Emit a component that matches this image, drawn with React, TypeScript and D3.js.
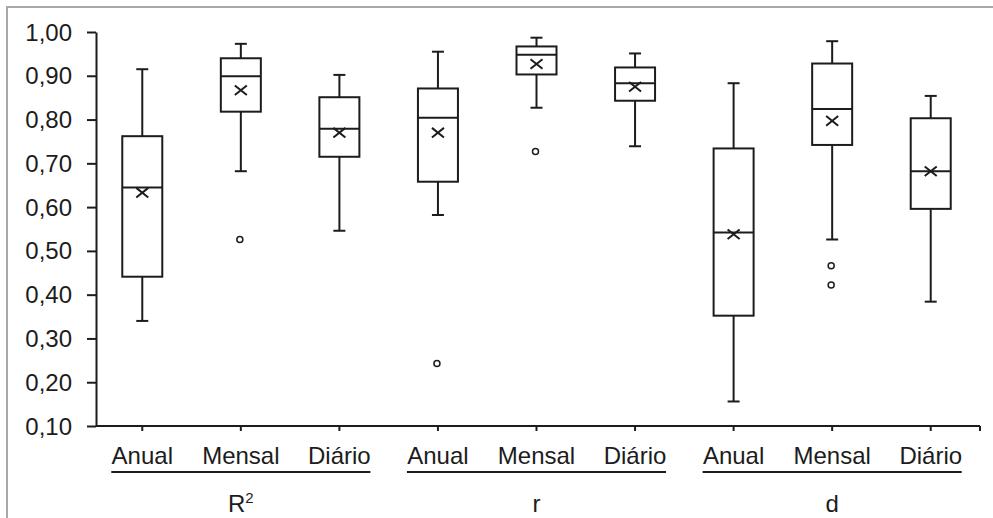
import { useRef, useEffect } from "react";
import * as d3 from "d3";

// three indices, three time scales each
const groups = ["R²", "r", "d"];
const periods = ["Anual", "Mensal", "Diário"];

// one value per box, in order R² (Anual, Mensal, Diário), r (...), d (...)
const whiskerHigh = [0.915, 0.973, 0.902, 0.955, 0.987, 0.951, 0.883, 0.979, 0.854];
const q3 = [0.762, 0.94, 0.851, 0.871, 0.967, 0.919, 0.734, 0.928, 0.803];
const median = [0.645, 0.899, 0.779, 0.804, 0.948, 0.883, 0.542, 0.824, 0.682];
const q1 = [0.441, 0.818, 0.715, 0.658, 0.903, 0.843, 0.352, 0.742, 0.596];
const whiskerLow = [0.34, 0.682, 0.546, 0.582, 0.827, 0.739, 0.156, 0.526, 0.384];
const mean = [0.633, 0.867, 0.77, 0.77, 0.927, 0.875, 0.538, 0.797, 0.682];
const outliers: number[][] = [[], [0.526], [], [0.243], [0.727], [], [], [0.466, 0.422], []];

const yTicks = [0.1, 0.2, 0.3, 0.4, 0.5, 0.6, 0.7, 0.8, 0.9, 1.0];

const W = 993;
const H = 518;
const ink = "#1c1c1c";
const font = "'Liberation Sans', Arial, sans-serif";

export default function App() {
  const ref = useRef<SVGSVGElement>(null);

  useEffect(() => {
    if (!ref.current) return;
    const svg = d3.select(ref.current);
    svg.selectAll("*").remove();

    const keys = groups.flatMap((g) => periods.map((p) => `${g}|${p}`));
    const x = d3.scaleBand<string>().domain(keys).range([93, 980]);
    const y = d3.scaleLinear().domain([0.1, 1.0]).range([426, 32]);
    const ptBr = d3.formatLocale({
      decimal: ",",
      thousands: ".",
      grouping: [3],
      currency: ["R$", ""],
    });
    const fmt = ptBr.format(".2f");
    const axisX = 96;
    const boxW = 40;
    const capW = 12;

    // outer frame (cropped on right/bottom)
    svg
      .append("rect")
      .attr("x", 7)
      .attr("y", 7)
      .attr("width", W + 20)
      .attr("height", H + 20)
      .attr("fill", "white")
      .attr("stroke", "#a8a8a8")
      .attr("stroke-width", 2);

    // y axis
    const yAxis = d3
      .axisLeft(y)
      .tickValues(yTicks)
      .tickSizeInner(9)
      .tickSizeOuter(0)
      .tickPadding(15)
      .tickFormat((d) => fmt(d as number));
    const gy = svg
      .append("g")
      .attr("transform", `translate(${axisX},0)`)
      .call(yAxis);
    gy.selectAll("path, line").attr("stroke", ink).attr("stroke-width", 2);
    gy.selectAll("text")
      .attr("dy", null)
      .attr("dominant-baseline", null)
      .attr("y", 8)
      .style("font-family", font)
      .style("font-size", "24px")
      .attr("fill", ink);

    // x axis
    const cx = (k: string) => (x(k) ?? 0) + x.bandwidth() / 2;
    const y0 = y(0.1);
    svg
      .append("line")
      .attr("x1", axisX)
      .attr("x2", 980)
      .attr("y1", y0)
      .attr("y2", y0)
      .attr("stroke", ink)
      .attr("stroke-width", 2);
    [...keys.map(cx), 980].forEach((px) => {
      svg
        .append("line")
        .attr("x1", px)
        .attr("x2", px)
        .attr("y1", y0)
        .attr("y2", y0 + 5)
        .attr("stroke", ink)
        .attr("stroke-width", 2);
    });

    keys.forEach((k) => {
      svg
        .append("text")
        .attr("x", cx(k))
        .attr("y", 464)
        .attr("text-anchor", "middle")
        .style("font-family", font)
        .style("font-size", "24px")
        .attr("fill", ink)
        .text(k.split("|")[1]);
    });

    groups.forEach((g) => {
      const left = cx(`${g}|${periods[0]}`) - 31;
      const right = cx(`${g}|${periods[2]}`) + 31;
      svg
        .append("line")
        .attr("x1", left)
        .attr("x2", right)
        .attr("y1", 472)
        .attr("y2", 472)
        .attr("stroke", ink)
        .attr("stroke-width", 2);
      const t = svg
        .append("text")
        .attr("x", (left + right) / 2)
        .attr("y", 512)
        .attr("text-anchor", "middle")
        .style("font-family", font)
        .style("font-size", "24px")
        .attr("fill", ink);
      if (g === "R²") {
        t.append("tspan").text("R");
        t.append("tspan")
          .attr("dy", -9)
          .style("font-size", "15px")
          .text("2");
      } else {
        t.text(g);
      }
    });

    // boxes
    keys.forEach((k, i) => {
      const c = cx(k);
      const g = svg.append("g").attr("stroke", ink).attr("stroke-width", 2).attr("fill", "none");
      // whiskers
      g.append("line").attr("x1", c).attr("x2", c).attr("y1", y(whiskerHigh[i])).attr("y2", y(q3[i]));
      g.append("line").attr("x1", c).attr("x2", c).attr("y1", y(q1[i])).attr("y2", y(whiskerLow[i]));
      g.append("line")
        .attr("x1", c - capW / 2)
        .attr("x2", c + capW / 2)
        .attr("y1", y(whiskerHigh[i]))
        .attr("y2", y(whiskerHigh[i]));
      g.append("line")
        .attr("x1", c - capW / 2)
        .attr("x2", c + capW / 2)
        .attr("y1", y(whiskerLow[i]))
        .attr("y2", y(whiskerLow[i]));
      // box
      g.append("rect")
        .attr("x", c - boxW / 2)
        .attr("y", y(q3[i]))
        .attr("width", boxW)
        .attr("height", y(q1[i]) - y(q3[i]))
        .attr("fill", "white");
      g.append("line")
        .attr("x1", c - boxW / 2)
        .attr("x2", c + boxW / 2)
        .attr("y1", y(median[i]))
        .attr("y2", y(median[i]));
      // mean marker
      const my = y(mean[i]);
      const s = 6;
      g.append("path")
        .attr("d", `M${c - s},${my - s * 0.8}L${c + s},${my + s * 0.8}M${c - s},${my + s * 0.8}L${c + s},${my - s * 0.8}`)
        .attr("stroke-width", 2);
      // outliers
      outliers[i].forEach((v) => {
        g.append("circle")
          .attr("cx", c - 1)
          .attr("cy", y(v))
          .attr("r", 3)
          .attr("stroke-width", 1.5);
      });
    });
  }, []);

  return (
    <div style={{ position: "absolute", left: 0, top: 0 }}>
      <svg ref={ref} width={W} height={H} style={{ display: "block" }} />
    </div>
  );
}
